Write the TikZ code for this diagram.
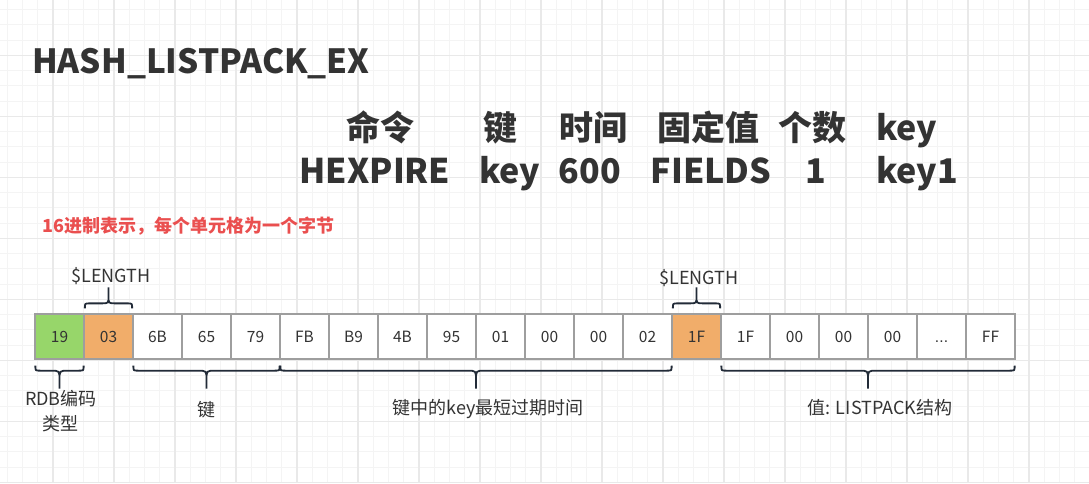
\documentclass[tikz,border=0pt]{standalone}
\usepackage{fontspec}
\setmainfont{Noto Sans CJK SC}
\newfontfamily\dotfont{Liberation Sans}
\usetikzlibrary{calc}
\definecolor{txt}{HTML}{333333}
\definecolor{cgreen}{HTML}{97D66A}
\definecolor{corange}{HTML}{F1AD6A}
\definecolor{cred}{HTML}{EA4F4F}
\definecolor{cborder}{HTML}{9E9E9E}
\definecolor{cbrace}{HTML}{222B38}
\definecolor{gminor}{HTML}{F4F4F4}
\definecolor{gmajor}{HTML}{E9E9E9}
\newcommand\threedots{{\dotfont .\kern0.3pt.\kern0.3pt.}}
\newcommand\bracedown[2]{%
  \draw[bracestyle] let \p1=(#1.south west), \p2=(#2.south east),
    \p3=($(#1.south west)!0.5!(#2.south east)$) in
    (\x1+1pt,\y1-6pt) .. controls (\x1+1pt,\y1-11pt) .. (\x1+6pt,\y1-11pt)
      -- (\x3-9pt,\y1-11pt) .. controls (\x3,\y1-11pt) .. (\x3,\y1-20pt) -- (\x3,\y1-29pt)
    (\x2-1pt,\y1-6pt) .. controls (\x2-1pt,\y1-11pt) .. (\x2-6pt,\y1-11pt)
      -- (\x3+9pt,\y1-11pt) .. controls (\x3,\y1-11pt) .. (\x3,\y1-20pt);}
\newcommand\braceup[1]{%
  \draw[bracestyle] let \p1=(#1.north west), \p2=(#1.north east),
    \p3=(#1.north) in
    (\x1+1.5pt,\y1+5pt) .. controls (\x1+1.5pt,\y1+10pt) .. (\x1+6.5pt,\y1+10pt)
      -- (\x3-7pt,\y1+10pt) .. controls (\x3,\y1+10pt) .. (\x3,\y1+17pt) -- (\x3,\y1+26pt)
    (\x2-1.5pt,\y1+5pt) .. controls (\x2-1.5pt,\y1+10pt) .. (\x2-6.5pt,\y1+10pt)
      -- (\x3+7pt,\y1+10pt) .. controls (\x3,\y1+10pt) .. (\x3,\y1+17pt);}
\begin{document}
\begin{tikzpicture}[x=1pt,y=-1pt,
  minorgrid/.style={draw=gminor,line width=1pt},
  majorgrid/.style={draw=gmajor,line width=1.2pt},
  cell/.style={draw=cborder,line width=1.3pt,minimum width=49pt,minimum height=45pt,
    inner sep=0pt,text height=11.3pt,text depth=0pt,text=txt,font=\fontsize{15.5}{18}\selectfont},
  bracestyle/.style={draw=cbrace,line width=1.8pt},
  title/.style={inner sep=0pt,text=txt,font=\fontsize{33.3}{40}\selectfont\bfseries},
  cmd/.style={inner sep=0pt,anchor=base,text=txt,font=\fontsize{34}{40}\selectfont\bfseries},
  note/.style={inner sep=0pt,text=cred,font=\fontsize{18}{22}\selectfont\bfseries},
  lbl/.style={inner sep=0pt,anchor=base,text=txt,font=\fontsize{18}{25}\selectfont,align=center}]
\useasboundingbox (0,0) rectangle (1089,483);
\fill[white] (0,0) rectangle (1089,483);
\begin{scope}
\clip (0,0) rectangle (1089,483);
\foreach \i in {0,...,71} \draw[minorgrid] ({7.25+15.25*\i},0) -- ({7.25+15.25*\i},483);
\foreach \j in {0,...,31} \draw[minorgrid] (0,{9.55+15.25*\j}) -- (1089,{9.55+15.25*\j});
\foreach \i in {0,...,16} \draw[majorgrid] ({53+61*\i},0) -- ({53+61*\i},483);
\foreach \j in {0,...,7} \draw[majorgrid] (0,{55.3+61*\j}) -- (1089,{55.3+61*\j});
\end{scope}

% title
\node[title,anchor=base west] (title) at (32,73) {HASH\_LISTPACK\_EX};

% command table
\node[cmd] (h1) at (380,140) {命令};
\node[cmd] (h2) at (500,140) {键};
\node[cmd] (h3) at (593,140) {时间};
\node[cmd] (h4) at (708,140) {固定值};
\node[cmd] (h5) at (812,140) {个数};
\node[cmd] (h6) at (907,140) {key};
\node[cmd] (v1) at (375,183) {HEXPIRE};
\node[cmd] (v2) at (510,183) {key};
\node[cmd] (v3) at (590,183) {600};
\node[cmd] (v4) at (711,183) {FIELDS};
\node[cmd] (v5) at (816,183) {1};
\node[cmd] (v6) at (917,183) {key1};

% note
\node[note,anchor=base west] (note) at (42,232) {16进制表示，每个单元格为一个字节};

% cells
\foreach \t/\f [count=\i] in {19/cgreen,03/corange,6B/white,65/white,79/white,FB/white,
  B9/white,4B/white,95/white,01/white,00/white,00/white,02/white,1F/corange,1F/white,
  00/white,00/white,00/white,\threedots/white,FF/white}
  \node[cell,fill=\f] (c\i) at ({59.5+49*(\i-1)},336.5) {\t};

% top labels and braces
\node[lbl] (len1) at (111,282) {\$LENGTH};
\node[lbl] (len2) at (699,284) {\$LENGTH};
\braceup{c2}
\braceup{c14}

% bottom braces
\bracedown{c1}{c1}
\bracedown{c3}{c5}
\bracedown{c6}{c13}
\bracedown{c15}{c20}

% bottom labels
\node[lbl] (l1) at (61,430) {RDB编码\\类型};
\node[lbl] (l2) at (206,416) {键};
\node[lbl] (l3) at (488,414) {键中的key最短过期时间};
\node[lbl] (l4) at (880,414) {值: LISTPACK结构};
\end{tikzpicture}
\end{document}
